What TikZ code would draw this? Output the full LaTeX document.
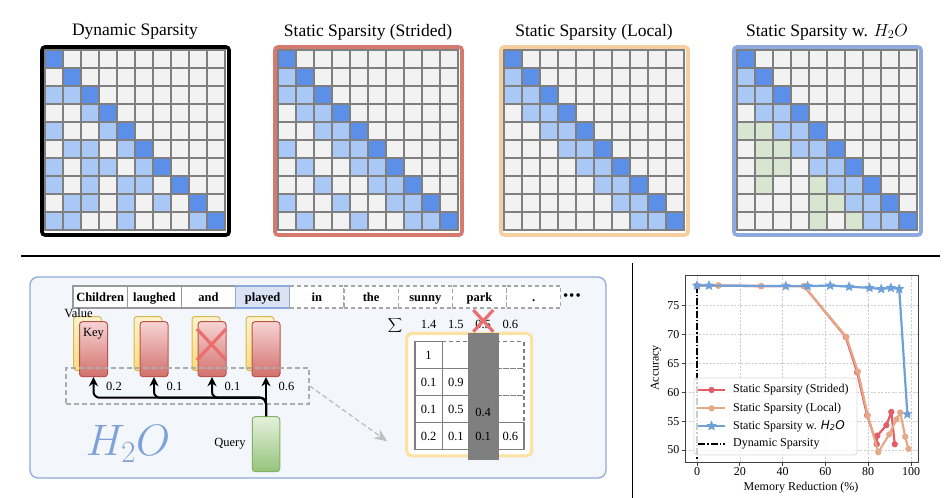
\RequirePackage{fix-cm}
\documentclass[tikz,border=0pt]{standalone}
\usepackage{fontspec}
\setmainfont{Liberation Serif}
\newfontfamily\plotsans{DejaVu Sans}
\usetikzlibrary{positioning,arrows.meta,shapes.geometric}

\definecolor{emptycell}{HTML}{F2F2F2}
\definecolor{gridgray}{HTML}{7F7F7F}
\definecolor{darkcell}{HTML}{5B8FE8}
\definecolor{lightcell}{HTML}{A9C8F5}
\definecolor{greencell}{HTML}{D7E5D1}
\definecolor{stridedframe}{HTML}{D57A6E}
\definecolor{localframe}{HTML}{F6CFA0}
\definecolor{hhoframe}{HTML}{8EAADC}
\definecolor{panelfill}{HTML}{F3F6FB}
\definecolor{panelline}{HTML}{8FAADC}
\definecolor{playedfill}{HTML}{DAE3F3}
\definecolor{keytop}{HTML}{F6D4D3}
\definecolor{keybot}{HTML}{D2706C}
\definecolor{keyline}{HTML}{B85450}
\definecolor{valtop}{HTML}{FFF2CC}
\definecolor{valbot}{HTML}{FFDC7A}
\definecolor{valline}{HTML}{D6B656}
\definecolor{qtop}{HTML}{E4F1DC}
\definecolor{qbot}{HTML}{96C37C}
\definecolor{qline}{HTML}{82B366}
\definecolor{crossred}{HTML}{EA6F6F}
\definecolor{logoblue}{HTML}{7EA1DA}
\definecolor{attnframe}{HTML}{FBE2A0}
\definecolor{stridedred}{HTML}{E25D68}
\definecolor{localtan}{HTML}{E6A987}
\definecolor{hhoblue}{HTML}{6FA1D8}

\tikzset{
  mcell/.style={draw=gridgray, line width=1.4pt, fill=emptycell},
  panelframe/.style={line width=3.6pt, rounded corners=3pt},
  ptitle/.style={font=\fontsize{17.5}{20}\selectfont},
  word/.style={draw=gray!80, line width=1.2pt, fill=white, minimum width=54.2pt, minimum height=22pt,
    inner sep=0pt, outer sep=0pt, text height=9pt, text depth=1pt, font=\fontsize{12.5}{14}\selectfont\bfseries},
  future/.style={word, draw=gray!70, dash pattern=on 4pt off 3pt},
  lbl/.style={font=\fontsize{12.5}{14}\selectfont, inner sep=1pt},
  valcard/.style={draw=valline, top color=valtop, bottom color=valbot, line width=1pt, rounded corners=3pt,
    minimum width=28pt, minimum height=54pt, inner sep=0pt},
  keycard/.style={draw=keyline, top color=keytop, bottom color=keybot, line width=1pt, rounded corners=3pt,
    minimum width=28pt, minimum height=55pt, inner sep=0pt},
  querycard/.style={draw=qline, top color=qtop, bottom color=qbot, line width=1pt, rounded corners=3pt,
    minimum width=27.5pt, minimum height=55pt, inner sep=0pt},
  qarrow/.style={-{Stealth[length=9pt,width=9pt]}, line width=2pt, rounded corners=6pt},
  crossline/.style={draw=crossred, line width=3.2pt},
  dashbox/.style={draw=gray!65, dash pattern=on 5pt off 3pt, line width=1.3pt, inner sep=0pt},
  hint/.style={draw=gray!50, dash pattern=on 5pt off 3pt, line width=1.3pt, -{Stealth[length=13pt,width=11pt,fill=gray!50]}},
  attnbox/.style={draw=attnframe, fill=white, line width=3pt, rounded corners=5pt, inner sep=0pt},
  acell/.style={draw=gridgray, fill=white, line width=1.3pt},
  pgrid/.style={draw=gray!40, dash pattern=on 2pt off 1.5pt, line width=0.6pt},
  paxis/.style={draw=black!75, line width=0.8pt},
  ptext/.style={font=\fontsize{12}{14}\selectfont, inner sep=1pt},
  ltext/.style={font=\fontsize{12}{14}\selectfont, inner sep=0pt},
  stridedl/.style={color=stridedred, line width=2.2pt, line join=round, mark=*, mark size=2.8pt, mark options={line width=0.6pt}},
  locall/.style={color=localtan, line width=2.2pt, line join=round, mark=*, mark size=2.8pt, mark options={line width=0.6pt}},
  hhol/.style={draw=hhoblue, line width=2.2pt, line join=round},
  hstar/.style={star, star points=5, star point ratio=2.2, minimum size=11pt, inner sep=0pt, fill=hhoblue},
  dynl/.style={draw=black, line width=2.4pt, dash pattern=on 7pt off 2pt on 1.5pt off 2pt},
  legbox/.style={draw=gray!30, fill=white, fill opacity=0.8, rounded corners=3pt, line width=0.8pt}
}

\begin{document}
\begin{tikzpicture}[x=1pt, y=-1pt]
\useasboundingbox (0,0) rectangle (948,498);

% dynamic sparsity
\node[ptitle] (t1) at (135,32) {Dynamic Sparsity};
\begin{scope}[shift={(45,50)}]
  \foreach \row in {0,...,9} \foreach \col in {0,...,9} \draw[mcell] (\col*18,\row*18) rectangle ++(18,18);
  \foreach \row/\col in {2/0,2/1,3/2,4/0,4/3,5/1,5/2,5/4,6/0,6/2,6/3,6/5,7/0,7/2,7/4,7/5,8/1,8/2,8/4,8/6,9/0,9/1,9/4,9/8}
    \draw[mcell, fill=lightcell] (\col*18,\row*18) rectangle ++(18,18);
  \foreach \row in {0,...,9} \draw[mcell, fill=darkcell] (\row*18,\row*18) rectangle ++(18,18);
\end{scope}
\draw[panelframe, draw=black] (42,47) rectangle (229,235);

% strided
\node[ptitle] (t2) at (368,32) {Static Sparsity (Strided)};
\begin{scope}[shift={(278,50)}]
  \foreach \row in {0,...,9} \foreach \col in {0,...,9} \draw[mcell] (\col*18,\row*18) rectangle ++(18,18);
  \foreach \row/\col in {1/0,2/0,2/1,3/1,3/2,4/2,4/3,5/0,5/3,5/4,6/1,6/4,6/5,7/2,7/5,7/6,8/0,8/3,8/6,8/7,9/1,9/4,9/7,9/8}
    \draw[mcell, fill=lightcell] (\col*18,\row*18) rectangle ++(18,18);
  \foreach \row in {0,...,9} \draw[mcell, fill=darkcell] (\row*18,\row*18) rectangle ++(18,18);
\end{scope}
\draw[panelframe, draw=stridedframe] (275,47) rectangle (462,235);

% local
\node[ptitle] (t3) at (594,32) {Static Sparsity (Local)};
\begin{scope}[shift={(504,50)}]
  \foreach \row in {0,...,9} \foreach \col in {0,...,9} \draw[mcell] (\col*18,\row*18) rectangle ++(18,18);
  \foreach \row in {1,...,9} \draw[mcell, fill=lightcell] (\row*18-18,\row*18) rectangle ++(18,18);
  \foreach \row in {2,...,9} \draw[mcell, fill=lightcell] (\row*18-36,\row*18) rectangle ++(18,18);
  \foreach \row in {0,...,9} \draw[mcell, fill=darkcell] (\row*18,\row*18) rectangle ++(18,18);
\end{scope}
\draw[panelframe, draw=localframe] (501,47) rectangle (688,235);

% local + heavy hitters
\node[ptitle] (t4) at (827,32) {Static Sparsity w. $H_2O$};
\begin{scope}[shift={(737,50)}]
  \foreach \row in {0,...,9} \foreach \col in {0,...,9} \draw[mcell] (\col*18,\row*18) rectangle ++(18,18);
  \foreach \row in {1,...,9} \draw[mcell, fill=lightcell] (\row*18-18,\row*18) rectangle ++(18,18);
  \foreach \row in {2,...,9} \draw[mcell, fill=lightcell] (\row*18-36,\row*18) rectangle ++(18,18);
  \foreach \row/\col in {4/0,4/1,5/1,5/2,6/1,6/2,7/1,7/4,8/4,8/5,9/4,9/6}
    \draw[mcell, fill=greencell] (\col*18,\row*18) rectangle ++(18,18);
  \foreach \row in {0,...,9} \draw[mcell, fill=darkcell] (\row*18,\row*18) rectangle ++(18,18);
\end{scope}
\draw[panelframe, draw=hhoframe] (734,47) rectangle (921,235);

\draw[line width=1.2pt] (21,256) -- (940,256);
\draw[line width=1pt] (632,263) -- (632,498);

% eviction sketch
\draw[draw=panelline, fill=panelfill, line width=1.3pt, rounded corners=8pt] (30,277) rectangle (606,478);
\node[word] (w1) at (100.1,297) {Children};
\node[word, right=0pt of w1] (w2) {laughed};
\node[word, right=0pt of w2] (w3) {and};
\node[word, right=0pt of w3, fill=playedfill, draw=hhoframe] (w4) {played};
\node[future, right=0pt of w4] (w5) {in};
\node[future, right=0pt of w5] (w6) {the};
\node[future, right=0pt of w6] (w7) {sunny};
\node[future, right=0pt of w7] (w8) {park};
\node[future, right=0pt of w8] (w9) {.};
\node[right=2pt of w9, font=\fontsize{15}{16}\selectfont, inner sep=0pt] (more) {\textbullet\hspace{1pt}\textbullet\hspace{1pt}\textbullet};

\foreach \n/\x in {1/93.5,2/154,3/212,4/266}{
  \node[valcard] (val\n) at (\x-6,343.5) {};
  \node[keycard] (key\n) at (\x,349.2) {};
}
\node[lbl] (vtext) at ([xshift=-9pt,yshift=3pt]val1.north) {Value};
\node[lbl] (ktext) at ([yshift=-13pt]key1.north) {Key};
\draw[crossline] (197,329) -- (226,360) (197,360) -- (226,329);
\node[dashbox, minimum width=243pt, minimum height=36pt] (kbox) at (187.4,385.9) {};
\foreach \n/\s in {1/0.2,2/0.1,3/0.1,4/0.6}
  \node[lbl, anchor=west] (score\n) at ([xshift=-3pt,yshift=-9pt]key\n.south east) {\s};

\node[querycard] (query) at (266,444.2) {};
\node[lbl, left=5pt of query] (qtext) {Query};
\coordinate (fork) at ([yshift=18.5pt]query.north);
\draw[qarrow] (query.north) -- (key4.south);
\foreach \n in {1,2,3} \draw[qarrow] (query.north) -- (fork) -| (key\n.south);

\node[font=\fontsize{44}{48}\selectfont, text=logoblue] (logo) at (128,444) {$H_2O$};

\node[attnbox, minimum width=125pt, minimum height=122.5pt] (ybox) at (469.2,394.6) {};
\draw[hint] (kbox.east) -- ([xshift=-18pt,yshift=16pt]ybox.south west);
\begin{scope}[shift={(415,341.5)}]
  \foreach \row/\col in {0/1,0/2,0/3,1/2,1/3,2/3}
    \draw[acell, dash pattern=on 4pt off 3pt] (\col*27.25,\row*27) rectangle ++(27.25,27);
  \foreach \row/\col in {0/0,1/0,1/1,2/0,2/1,2/2,3/0,3/1,3/2,3/3}
    \draw[acell] (\col*27.25,\row*27) rectangle ++(27.25,27);
  \fill[gridgray] (53.3,-8.2) rectangle (84.3,118.5);
  \foreach \row/\col/\v in {0/0/1,1/0/0.1,1/1/0.9,2/0/0.1,2/1/0.5,3/0/0.2,3/1/0.1,3/2/0.1,3/3/0.6}
    \node[lbl] (a\row\col) at (\col*27.25+13.6,\row*27+13.5) {\v};
  \node[lbl] (a22) at (68.1,70.5) {0.4};
  \node[lbl] (sum) at (-20,-16.5) {$\displaystyle\sum$};
  \foreach \col/\v in {0/1.4,1/1.5,2/0.5,3/0.6}
    \node[lbl] (s\col) at (\col*27.25+13.6,-17.5) {\v};
  \draw[crossline] (58.3,-31.5) -- (78.3,-9.8) (58.3,-9.8) -- (78.3,-31.5);
\end{scope}

% accuracy vs memory reduction
\begin{scope}[shift={(697,738.5)}, x=2.14pt, y=5.77pt]
  \foreach \gx in {0,20,...,100} \draw[pgrid] (\gx,47.9) -- (\gx,80.3);
  \foreach \gy in {50,55,...,75} \draw[pgrid] (-5.6,\gy) -- (103.3,\gy);
  \draw[paxis] (-5.6,47.9) rectangle (103.3,80.3);
  \foreach \gx in {0,20,...,100}{
    \draw[paxis] (\gx,47.9) -- ++(0pt,-3.5pt);
    \node[ptext, anchor=north] (xt\gx) at ([yshift=-4.5pt]\gx,47.9) {\gx};
  }
  \foreach \gy in {50,55,...,75}{
    \draw[paxis] (-5.6,\gy) -- ++(-3.5pt,0pt);
    \node[ptext, anchor=east] (yt\gy) at ([xshift=-4.5pt]-5.6,\gy) {\gy};
  }
  \draw[dynl] (0,78.5) -- (0,48.3);
  \draw[stridedl] plot coordinates {(0,78.5) (10,78.5) (30,78.4) (50,78.4) (69.5,69.6) (74.8,63.5) (79.5,56) (84,51) (84.3,52.5) (88.5,54.3) (90.8,56.6) (92.4,51)};
  \draw[locall] plot coordinates {(0,78.5) (10,78.5) (30,78.4) (50,78.4) (69.8,69.6) (75.2,63.6) (79.8,56) (84.7,49.6) (89.8,52.7) (93.2,55.3) (95,56.5) (97.3,52.3) (98.8,50.2)};
  \draw[hhol] plot coordinates {(0,78.5) (5.6,78.5) (41.5,78.4) (51.7,78.4) (62.2,78.5) (71.1,78.3) (80.6,78.1) (86.1,77.9) (90.6,78.1) (94.5,77.9) (98.3,56.2)};
  \foreach \px/\py in {0/78.5,5.6/78.5,41.5/78.4,51.7/78.4,62.2/78.5,71.1/78.3,80.6/78.1,86.1/77.9,90.6/78.1,94.5/77.9,98.3/56.2}
    \node[hstar] at (\px,\py) {};
\end{scope}
\node[ptext] (xlabel) at (801,488) {Memory Reduction (\%)};
\node[ptext, rotate=90] (ylabel) at (656,368) {Accuracy};

\node[legbox, minimum width=163pt, minimum height=77pt] (legend) at (775.5,416.5) {};
\draw[stridedl, mark indices={2}] plot coordinates {(698,390) (711.5,390) (725,390)};
\node[ltext, anchor=west] (l1) at (733,390) {Static Sparsity (Strided)};
\draw[locall, mark indices={2}] plot coordinates {(698,408.3) (711.5,408.3) (725,408.3)};
\node[ltext, anchor=west] (l2) at (733,408.3) {Static Sparsity (Local)};
\draw[hhol] (698,426) -- (725,426);
\node[hstar] at (711.5,426) {};
\node[ltext, anchor=west] (l3) at (733,426) {Static Sparsity w. {\plotsans\itshape H\textsubscript{2}O}};
\draw[dynl] (698,444) -- (725,444);
\node[ltext, anchor=west] (l4) at (733,444) {Dynamic Sparsity};
\end{tikzpicture}
\end{document}
